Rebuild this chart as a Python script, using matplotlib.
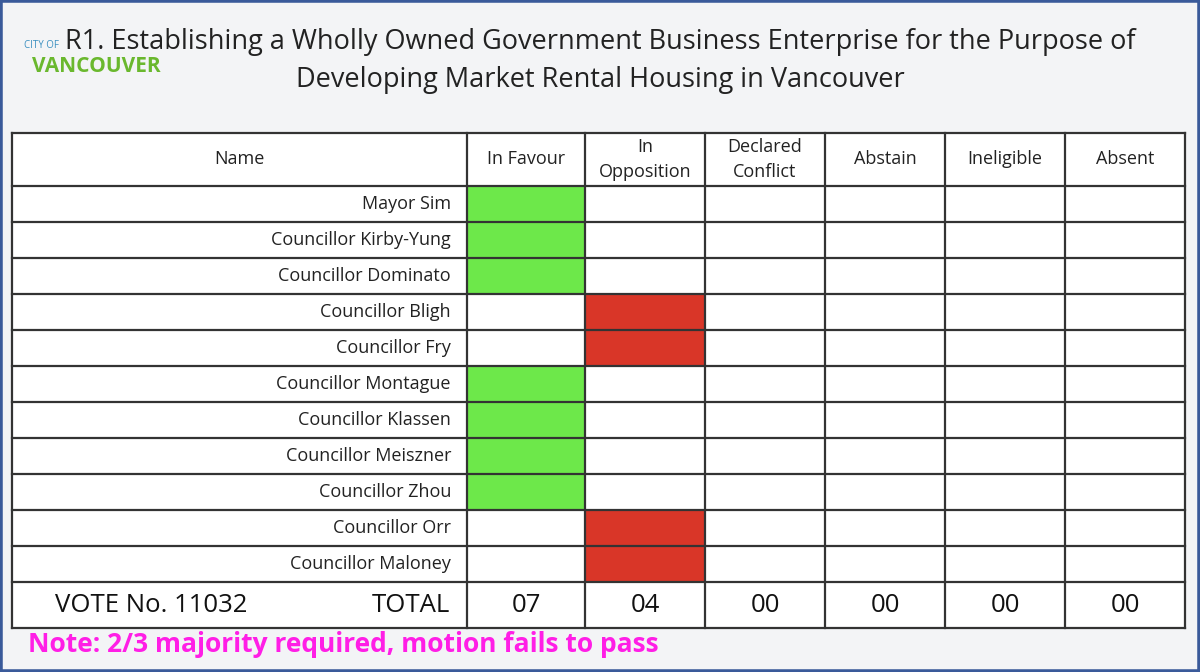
import matplotlib
matplotlib.use("Agg")
import matplotlib.pyplot as plt
from matplotlib.patches import Rectangle

plt.rcParams['font.family'] = ['Open Sans', 'DejaVu Sans']

title = ["R1. Establishing a Wholly Owned Government Business Enterprise for the Purpose of",
         "Developing Market Rental Housing in Vancouver"]
columns = ["Name", "In Favour", "In\nOpposition", "Declared\nConflict", "Abstain", "Ineligible", "Absent"]
names = ["Mayor Sim", "Councillor Kirby-Yung", "Councillor Dominato", "Councillor Bligh",
         "Councillor Fry", "Councillor Montague", "Councillor Klassen", "Councillor Meiszner",
         "Councillor Zhou", "Councillor Orr", "Councillor Maloney"]
# column index of each vote (1 = In Favour, 2 = In Opposition)
votes = [1, 1, 1, 2, 2, 1, 1, 1, 1, 2, 2]
vote_no = "VOTE No. 11032"
note = "Note: 2/3 majority required, motion fails to pass"

colors = {1: "#6de84a", 2: "#d93628"}
xs = [12, 467, 585, 705, 825, 945, 1065, 1185]
header_top, header_bot = 133, 186
row_h = 36
total_bot = 628

fig = plt.figure(figsize=(12, 6.72), dpi=100)
ax = fig.add_axes([0, 0, 1, 1])
ax.set_xlim(0, 1200)
ax.set_ylim(672, 0)
ax.axis('off')
fig.patch.set_facecolor("#f3f4f6")
ax.add_patch(Rectangle((0, 0), 1200, 672, fill=False, ec="#3a5a9a", lw=4))

# logo text
ax.text(24, 46, "CITY OF", color="#3a8fc0", fontsize=7, ha='left', va='center')
ax.text(32, 66, "VANCOUVER", color="#6ab82e", fontsize=15, fontweight='bold', ha='left', va='center')

ax.text(600, 42, title[0], fontsize=19.5, ha='center', va='center', color="#222")
ax.text(600, 80, title[1], fontsize=19.5, ha='center', va='center', color="#222")

rows_bot = header_bot + row_h * len(names)
ax.add_patch(Rectangle((xs[0], header_top), xs[-1] - xs[0], total_bot - header_top, fc="white", ec="none"))

# vote cells
for i, v in enumerate(votes):
    y = header_bot + i * row_h
    ax.add_patch(Rectangle((xs[v], y), xs[v + 1] - xs[v], row_h, fc=colors[v], ec="none"))

# grid lines
lc, lw = "#333", 1.6
for x in xs:
    ax.plot([x, x], [header_top, total_bot], color=lc, lw=lw)
ys = [header_top, header_bot] + [header_bot + row_h * (i + 1) for i in range(len(names))] + [total_bot]
for y in ys:
    ax.plot([xs[0], xs[-1]], [y, y], color=lc, lw=lw)

# header text
hy = (header_top + header_bot) / 2
for j in range(len(columns)):
    x0 = (xs[j] + xs[j + 1]) / 2
    ax.text(x0, hy, columns[j], fontsize=13, ha='center', va='center', color="#222", linespacing=1.55)

for i, n in enumerate(names):
    y = header_bot + i * row_h + row_h / 2
    ax.text(xs[1] - 16, y, n, fontsize=13, ha='right', va='center', color="#222")

ty = (rows_bot + total_bot) / 2
ax.text(55, ty, vote_no, fontsize=18.5, ha='left', va='center', color="#111")
ax.text(450, ty, "TOTAL", fontsize=18.5, ha='right', va='center', color="#111")
for j in range(1, 7):
    cnt = sum(1 for v in votes if v == j)
    ax.text((xs[j] + xs[j + 1]) / 2, ty, f"{cnt:02d}", fontsize=18.5, ha='center', va='center', color="#111")

ax.text(28, 645, note, fontsize=19, fontweight='bold', color="#ff1ee6", ha='left', va='center')

fig.savefig("out.png", dpi=100, facecolor=fig.get_facecolor())
